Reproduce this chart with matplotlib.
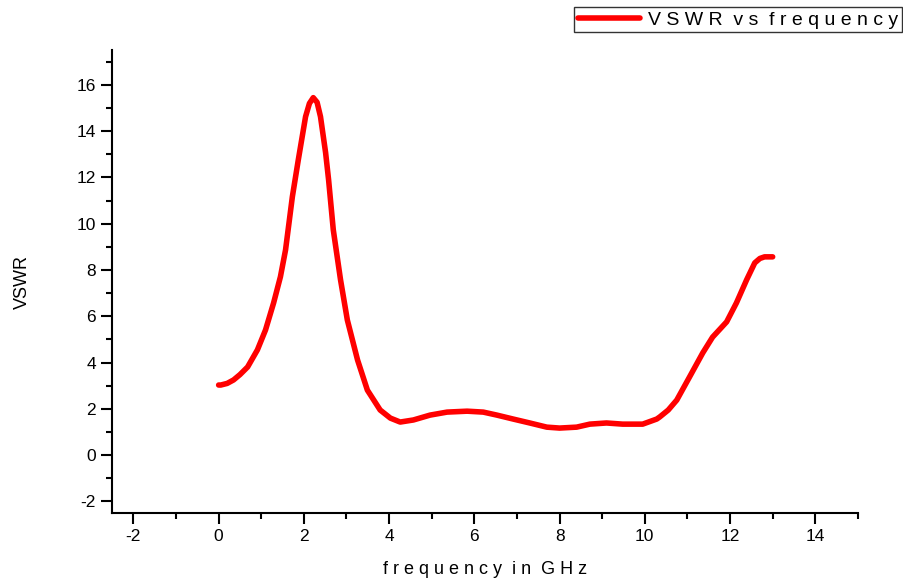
import numpy as np
import matplotlib
matplotlib.use("Agg")
import matplotlib.pyplot as plt
from matplotlib.ticker import MultipleLocator

plt.rcParams['font.family'] = ['Liberation Sans', 'DejaVu Sans']
plt.rcParams['axes.unicode_minus'] = False

# values
freq = [0.0, 0.05, 0.2, 0.35, 0.5, 0.68, 0.91, 1.10, 1.29, 1.45, 1.57, 1.73, 1.87,
        2.04, 2.13, 2.22, 2.31, 2.39, 2.51, 2.58, 2.69, 2.86, 3.02, 3.26,
        3.49, 3.79, 4.03, 4.26, 4.57, 4.96, 5.36, 5.83, 6.21, 6.53, 6.91, 7.3,
        7.7, 8.0, 8.4, 8.71, 9.1, 9.48, 9.95, 10.28, 10.35, 10.55, 10.75, 11.05,
        11.36, 11.59, 11.92, 12.15, 12.39, 12.58, 12.7, 12.81, 12.97, 13.0]
vswr = [3.03, 3.03, 3.1, 3.25, 3.48, 3.81, 4.55, 5.41, 6.58, 7.71, 8.87, 11.17, 12.77,
        14.63, 15.2, 15.45, 15.25, 14.63, 13.07, 11.9, 9.74, 7.58, 5.84, 4.11,
        2.81, 1.95, 1.6, 1.43, 1.52, 1.73, 1.86, 1.9, 1.86, 1.73, 1.56, 1.39,
        1.21, 1.17, 1.21, 1.34, 1.39, 1.34, 1.34, 1.56, 1.65, 1.95, 2.38, 3.38,
        4.42, 5.1, 5.76, 6.58, 7.58, 8.31, 8.5, 8.57, 8.57, 8.57]

fig = plt.figure(figsize=(9.04, 5.84), dpi=100)
ax = fig.add_axes([0.124, 0.1216, 0.825, 0.7924])

ax.plot(freq, vswr, color='red', lw=4, solid_capstyle='round',
        solid_joinstyle='round', label='V S W R  v s  f r e q u e n c y')

ax.set_xlim(-2.5, 15)
ax.set_ylim(-2.5, 17.5)
ax.xaxis.set_major_locator(MultipleLocator(2))
ax.xaxis.set_minor_locator(MultipleLocator(1))
ax.yaxis.set_major_locator(MultipleLocator(2))
ax.yaxis.set_minor_locator(MultipleLocator(1))

for s in ['top', 'right']:
    ax.spines[s].set_visible(False)
for s in ['left', 'bottom']:
    ax.spines[s].set_linewidth(1.5)

ax.tick_params(which='major', direction='out', length=8, width=1.5, labelsize=12.5)
ax.tick_params(which='minor', direction='out', length=4.5, width=1.5)

ax.set_xlabel('f r e q u e n c y  i n  G H z', fontsize=13, labelpad=12)
ax.set_ylabel('VSWR', fontsize=13, labelpad=33)

leg = ax.legend(loc='upper right', bbox_to_anchor=(0.998, 0.988),
                bbox_transform=fig.transFigure, fontsize=14, frameon=True,
                fancybox=False, edgecolor='black', handlelength=3.2,
                handletextpad=0.4, borderpad=0.2, borderaxespad=0)
leg.get_frame().set_linewidth(1.0)

fig.savefig('out.png', dpi=100)
